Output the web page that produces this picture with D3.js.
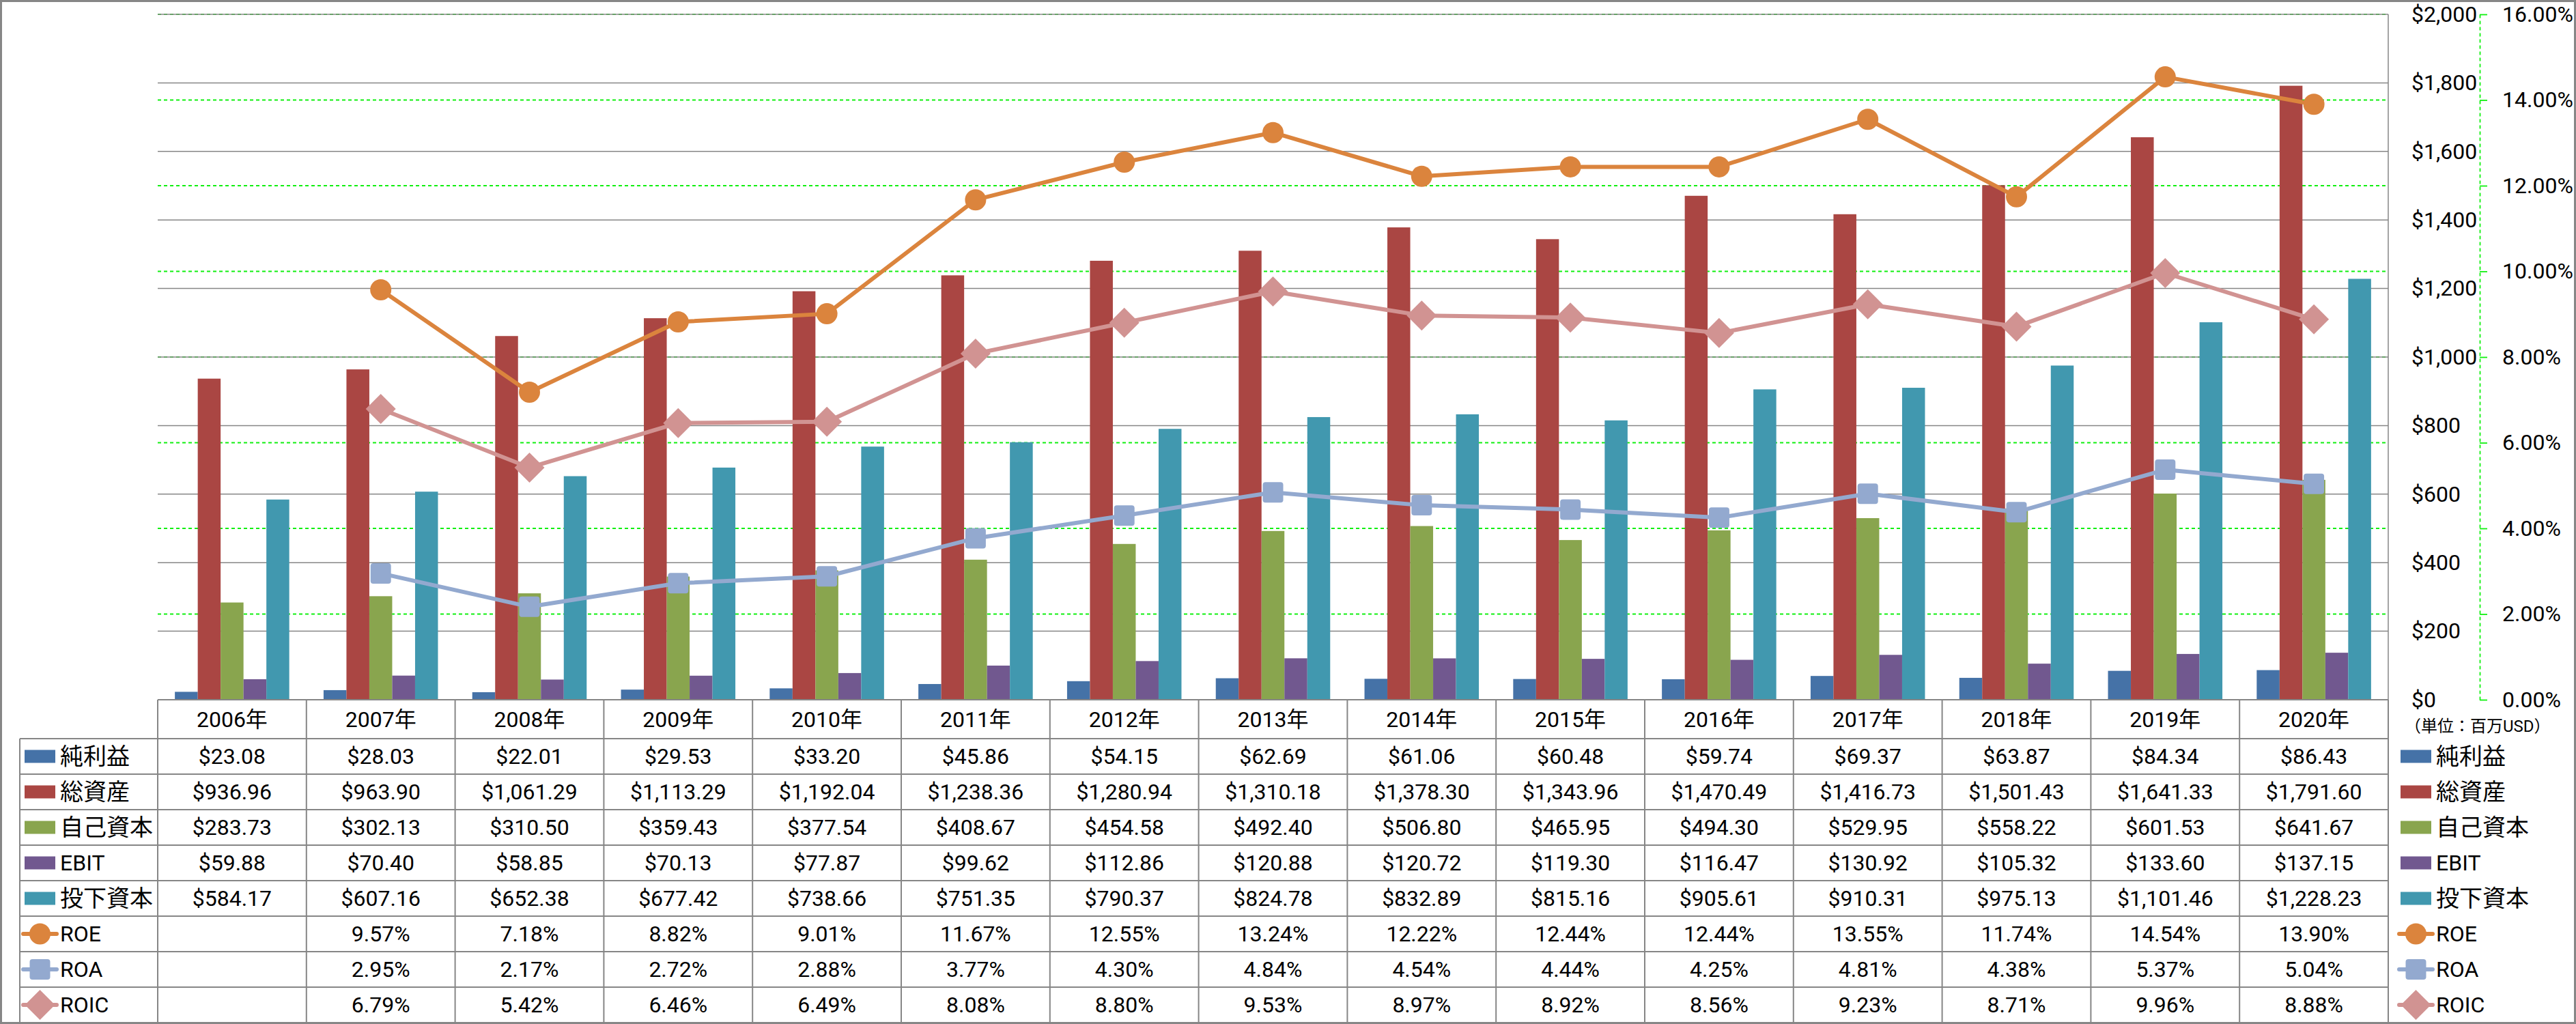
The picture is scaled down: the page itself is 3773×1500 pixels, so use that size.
<!DOCTYPE html>
<html>
<head>
<meta charset="utf-8">
<script src="https://cdn.jsdelivr.net/npm/d3@7"></script>
<style>
  body { margin: 0; background: #fff; }
  svg { display: block; }
  text { font-family: Roboto, "Noto Sans CJK JP", sans-serif; fill: #000; }
</style>
</head>
<body>
<div id="chart"></div>
<script>
// データ
const years = ['2006年', '2007年', '2008年', '2009年', '2010年', '2011年', '2012年', '2013年',
               '2014年', '2015年', '2016年', '2017年', '2018年', '2019年', '2020年'];
const netIncome = [23.08, 28.03, 22.01, 29.53, 33.20, 45.86, 54.15, 62.69, 61.06, 60.48, 59.74, 69.37, 63.87, 84.34, 86.43];
const totalAssets = [936.96, 963.90, 1061.29, 1113.29, 1192.04, 1238.36, 1280.94, 1310.18, 1378.30, 1343.96, 1470.49, 1416.73, 1501.43, 1641.33, 1791.60];
const equity = [283.73, 302.13, 310.50, 359.43, 377.54, 408.67, 454.58, 492.40, 506.80, 465.95, 494.30, 529.95, 558.22, 601.53, 641.67];
const ebit = [59.88, 70.40, 58.85, 70.13, 77.87, 99.62, 112.86, 120.88, 120.72, 119.30, 116.47, 130.92, 105.32, 133.60, 137.15];
const investedCapital = [584.17, 607.16, 652.38, 677.42, 738.66, 751.35, 790.37, 824.78, 832.89, 815.16, 905.61, 910.31, 975.13, 1101.46, 1228.23];
const roe = [null, 9.57, 7.18, 8.82, 9.01, 11.67, 12.55, 13.24, 12.22, 12.44, 12.44, 13.55, 11.74, 14.54, 13.90];
const roa = [null, 2.95, 2.17, 2.72, 2.88, 3.77, 4.30, 4.84, 4.54, 4.44, 4.25, 4.81, 4.38, 5.37, 5.04];
const roic = [null, 6.79, 5.42, 6.46, 6.49, 8.08, 8.80, 9.53, 8.97, 8.92, 8.56, 9.23, 8.71, 9.96, 8.88];

const barNames = ['純利益', '総資産', '自己資本', 'EBIT', '投下資本'];
const lineNames = ['ROE', 'ROA', 'ROIC'];
const dollarTicks = [0, 200, 400, 600, 800, 1000, 1200, 1400, 1600, 1800, 2000];
const pctTicks = [0, 2, 4, 6, 8, 10, 12, 14, 16];

// 色とマーカー
const barColors = ['#4572A7', '#AA4643', '#89A54E', '#71588F', '#4198AF'];
const lineColors = ['#DB843D', '#93A9CF', '#D19392'];
const lineMarkers = ['circle', 'square', 'diamond'];

const barSeries = barNames.map((name, i) => ({
    name, color: barColors[i], kind: 'bar',
    values: [netIncome, totalAssets, equity, ebit, investedCapital][i]
}));
const lineSeries = lineNames.map((name, i) => ({
    name, color: lineColors[i], kind: 'line', marker: lineMarkers[i],
    values: [roe, roa, roic][i]
}));
const allSeries = barSeries.concat(lineSeries);

const W = 3773, H = 1500;
const plotLeft = 231, plotRight = 3498, plotTop = 21, plotBottom = 1025;
const headerH = 57, rowH = 52, labelLeft = 29;
const green = '#10f010';

const svg = d3.select('#chart').append('svg')
    .attr('width', W)
    .attr('height', H);

// 外枠
svg.append('rect')
    .attr('x', 1.5).attr('y', 1.5)
    .attr('width', W - 3).attr('height', H - 3)
    .attr('fill', '#fff')
    .attr('stroke', '#868686')
    .attr('stroke-width', 3);

// スケール
const x = d3.scaleBand().domain(years).range([plotLeft, plotRight]);
const xs = d3.scaleBand().domain(barNames).range([0, x.bandwidth()]).paddingOuter(0.75);
const y = d3.scaleLinear().domain([0, 2000]).range([plotBottom, plotTop]);
const y2 = d3.scaleLinear().domain([0, 16]).range([plotBottom, plotTop]);

// 補助目盛線 (%)
svg.append('g')
    .selectAll('line')
    .data(pctTicks.filter(d => d > 0))
    .join('line')
    .attr('x1', plotLeft).attr('x2', plotRight)
    .attr('y1', d => y2(d)).attr('y2', d => y2(d))
    .attr('stroke', green)
    .attr('stroke-width', 1.8)
    .attr('stroke-dasharray', '5,4');

// 目盛線 ($)
svg.append('g')
    .selectAll('line')
    .data(dollarTicks.filter(d => d > 0))
    .join('line')
    .attr('x1', plotLeft).attr('x2', plotRight)
    .attr('y1', d => y(d)).attr('y2', d => y(d))
    .attr('stroke', '#868686')
    .attr('stroke-width', 1.5);

// 棒グラフ
svg.append('g')
    .selectAll('g')
    .data(barSeries)
    .join('g')
    .attr('fill', d => d.color)
    .selectAll('rect')
    .data(d => d.values.map((v, i) => ({ v, year: years[i], name: d.name })))
    .join('rect')
    .attr('x', d => x(d.year) + xs(d.name))
    .attr('y', d => y(d.v))
    .attr('width', xs.bandwidth())
    .attr('height', d => y(0) - y(d.v));

// マーカー描画
function drawMarker(sel, type, color) {
    if (type === 'circle') {
        sel.append('circle').attr('r', 15.5).attr('fill', color);
    } else if (type === 'square') {
        sel.append('rect')
            .attr('x', -15).attr('y', -15)
            .attr('width', 30).attr('height', 30)
            .attr('rx', 4)
            .attr('fill', color);
    } else {
        sel.append('path')
            .attr('d', 'M0,-22L22,0L0,22L-22,0Z')
            .attr('fill', color);
    }
}

// 折れ線
const line = d3.line()
    .defined(d => d.v != null)
    .x(d => x(d.year) + x.bandwidth() / 2)
    .y(d => y2(d.v));

lineSeries.forEach(s => {
    const pts = s.values.map((v, i) => ({ v, year: years[i] }));
    const g = svg.append('g');
    g.append('path')
        .datum(pts)
        .attr('d', line)
        .attr('fill', 'none')
        .attr('stroke', s.color)
        .attr('stroke-width', 6)
        .attr('stroke-linejoin', 'round');
    g.selectAll('g')
        .data(pts.filter(d => d.v != null))
        .join('g')
        .attr('transform', d => `translate(${x(d.year) + x.bandwidth() / 2},${y2(d.v)})`)
        .each(function() { drawMarker(d3.select(this), s.marker, s.color); });
});

// プロット右端
svg.append('line')
    .attr('x1', plotRight).attr('x2', plotRight)
    .attr('y1', plotTop).attr('y2', plotBottom)
    .attr('stroke', '#868686').attr('stroke-width', 1.5);

// 主軸ラベル ($)
svg.append('g')
    .attr('transform', 'translate(3532,0)')
    .call(d3.axisRight(y).tickValues(dollarTicks).tickSize(0).tickPadding(0).tickFormat(d3.format('$,')))
    .attr('font-family', null)
    .attr('font-size', 32)
    .call(g => g.select('.domain').remove());

// 第2軸 (%)
svg.append('g')
    .attr('transform', 'translate(3632,0)')
    .call(d3.axisRight(y2).tickValues(pctTicks).tickSize(11).tickSizeOuter(0).tickPadding(22)
        .tickFormat(d => d.toFixed(2) + '%'))
    .attr('font-family', null)
    .attr('font-size', 32)
    .call(g => g.select('.domain')
        .attr('stroke', green).attr('stroke-width', 1.8).attr('stroke-dasharray', '5,4'))
    .call(g => g.selectAll('.tick line').attr('stroke', green).attr('stroke-width', 1.8));

// データテーブル
const table = svg.append('g');
const tableBottom = plotBottom + headerH + rowH * allSeries.length;
const rowY = i => plotBottom + headerH + rowH * i;

// 罫線
table.append('line')
    .attr('x1', plotLeft).attr('x2', plotRight)
    .attr('y1', plotBottom).attr('y2', plotBottom)
    .attr('stroke', '#868686').attr('stroke-width', 2);
table.selectAll('line.h')
    .data(d3.range(allSeries.length + 1))
    .join('line')
    .attr('class', 'h')
    .attr('x1', labelLeft).attr('x2', plotRight)
    .attr('y1', d => rowY(d)).attr('y2', d => rowY(d))
    .attr('stroke', '#868686').attr('stroke-width', 2);
table.selectAll('line.v')
    .data(years.map(d => x(d)).concat([plotRight]))
    .join('line')
    .attr('class', 'v')
    .attr('x1', d => d).attr('x2', d => d)
    .attr('y1', plotBottom).attr('y2', tableBottom)
    .attr('stroke', '#868686').attr('stroke-width', 2);
table.append('line')
    .attr('x1', labelLeft).attr('x2', labelLeft)
    .attr('y1', rowY(0)).attr('y2', tableBottom)
    .attr('stroke', '#868686').attr('stroke-width', 2);

// 年見出し
table.selectAll('text.year')
    .data(years)
    .join('text')
    .attr('class', 'year')
    .attr('x', d => x(d) + x.bandwidth() / 2)
    .attr('y', plotBottom + headerH / 2)
    .attr('dy', '0.35em')
    .attr('text-anchor', 'middle')
    .attr('font-size', 32)
    .text(d => d);

// 値
const fmtDollar = d3.format('$,.2f');
allSeries.forEach((s, r) => {
    table.append('g')
        .selectAll('text')
        .data(s.values.map((v, i) => ({ v, year: years[i] })).filter(d => d.v != null))
        .join('text')
        .attr('x', d => x(d.year) + x.bandwidth() / 2)
        .attr('y', rowY(r) + rowH / 2)
        .attr('dy', '0.35em')
        .attr('text-anchor', 'middle')
        .attr('font-size', 32)
        .text(d => s.kind === 'bar' ? fmtDollar(d.v) : d.v.toFixed(2) + '%');
});

// 凡例キー
function legendKey(g, s, kx, cy) {
    if (s.kind === 'bar') {
        g.append('rect')
            .attr('x', kx).attr('y', cy - 9.5)
            .attr('width', 45).attr('height', 19)
            .attr('fill', s.color);
    } else {
        g.append('line')
            .attr('x1', kx - 2).attr('x2', kx + 47)
            .attr('y1', cy).attr('y2', cy)
            .attr('stroke', s.color).attr('stroke-width', 6)
            .attr('stroke-linecap', 'round');
        drawMarker(g.append('g').attr('transform', `translate(${kx + 22.5},${cy})`), s.marker, s.color);
    }
    g.append('text')
        .attr('x', kx + 52)
        .attr('y', cy)
        .attr('dy', '0.35em')
        .attr('font-size', /^[A-Z]+$/.test(s.name) ? 32 : 34)
        .text(s.name);
}

allSeries.forEach((s, r) => {
    legendKey(svg.append('g'), s, 36, rowY(r) + rowH / 2);
    legendKey(svg.append('g'), s, 3516, rowY(r) + rowH / 2);
});

// 単位
svg.append('text')
    .attr('x', 3522)
    .attr('y', 1064)
    .attr('dy', '0.35em')
    .attr('font-size', 24)
    .text('（単位：百万USD）');
</script>
</body>
</html>
